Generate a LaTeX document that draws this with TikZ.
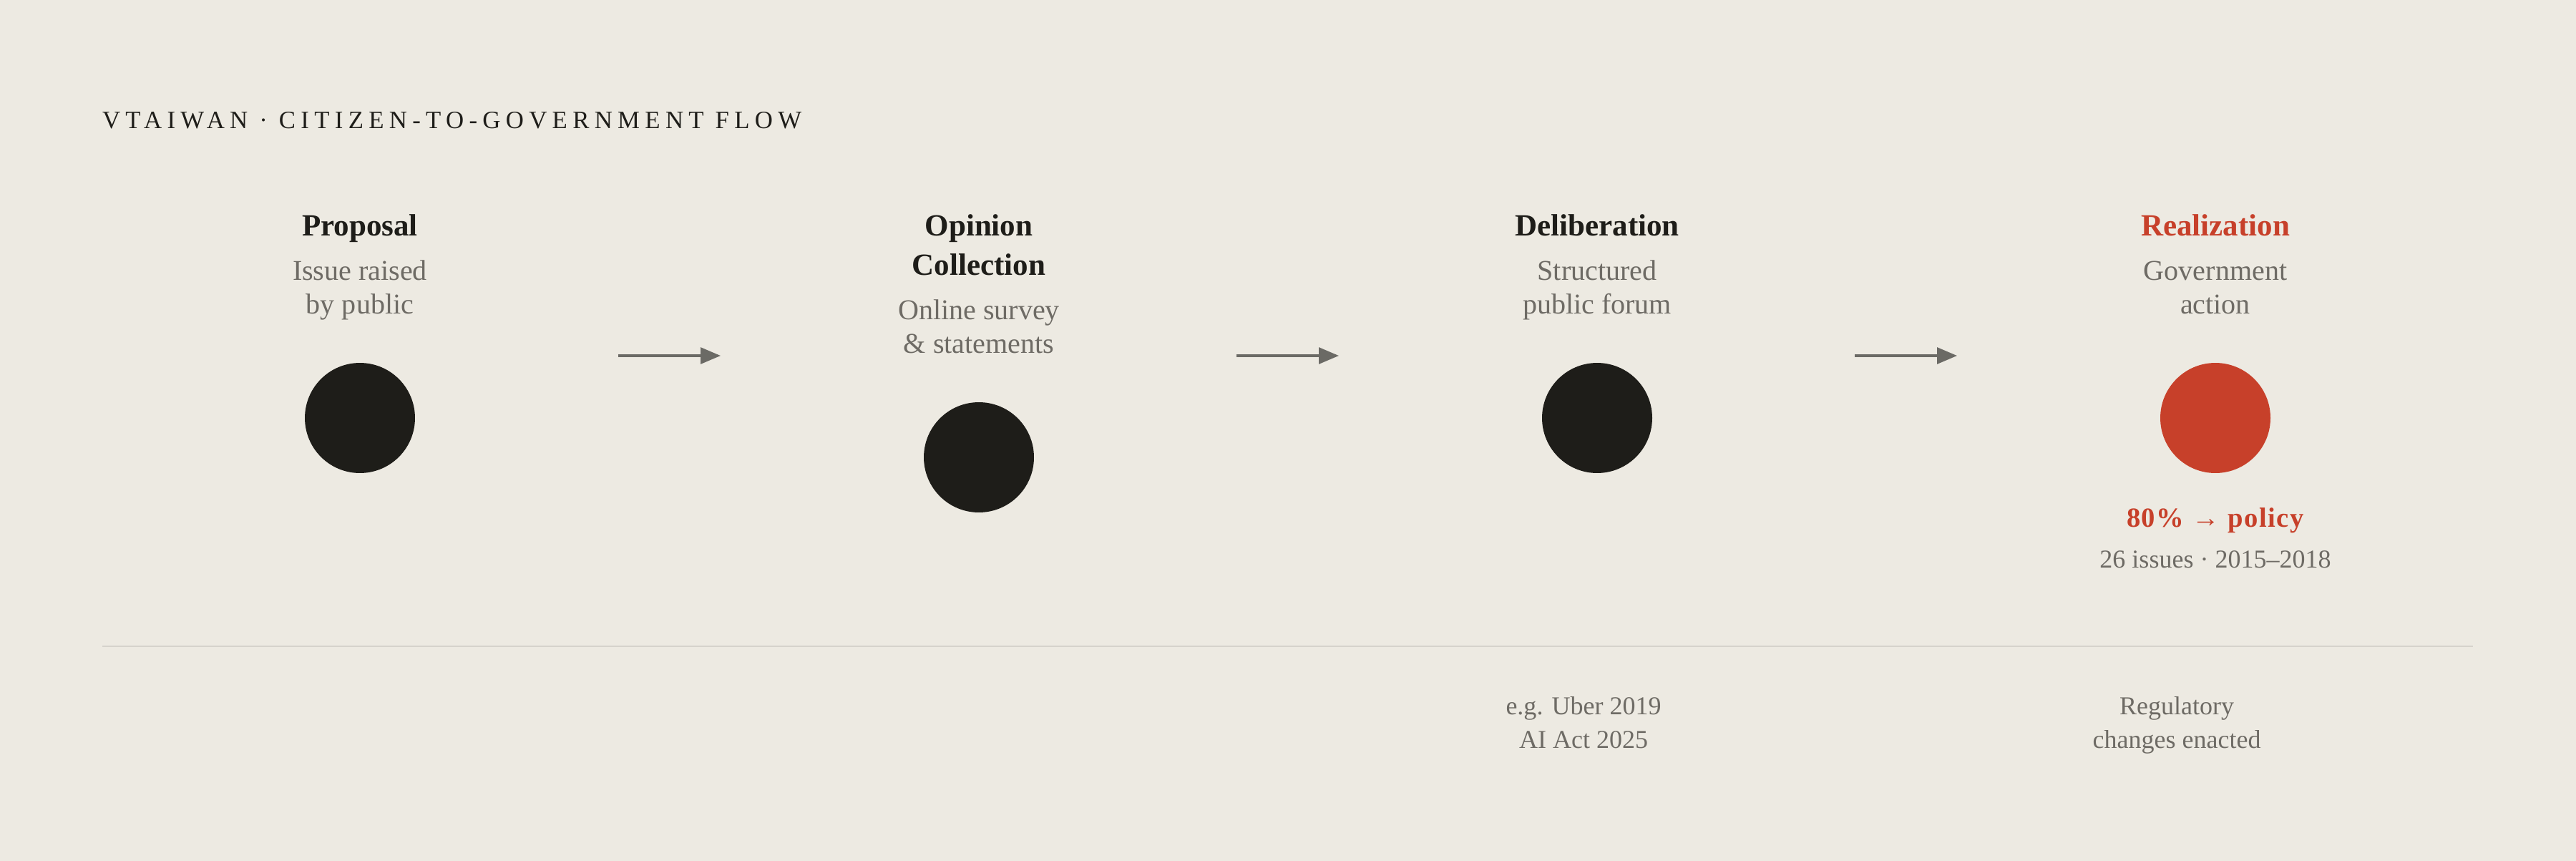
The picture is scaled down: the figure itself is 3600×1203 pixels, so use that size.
\documentclass[tikz,border=0pt]{standalone}
\usepackage{fontspec}
\setmainfont{Liberation Serif}
\usetikzlibrary{arrows.meta}
\definecolor{bgc}{HTML}{EDEAE2}
\definecolor{darkc}{HTML}{1E1D19}
\definecolor{redc}{HTML}{C7402A}
\definecolor{grayc}{HTML}{6E6B65}
\definecolor{arrowc}{HTML}{6B6A65}
\definecolor{rulec}{HTML}{D6D3CC}
\begin{document}
\begin{tikzpicture}[x=0.02cm,y=-0.02cm,
  every node/.style={inner sep=0pt,outer sep=0pt},
  ttl/.style={anchor=base,font=\fontsize{24.5pt}{29pt}\selectfont\bfseries,text=darkc},
  sub/.style={anchor=base,font=\fontsize{22.8pt}{27pt}\selectfont,text=grayc},
  note/.style={anchor=base,font=\fontsize{20.5pt}{25pt}\selectfont,text=grayc},
  dot/.style={circle,fill=darkc,minimum size=3.08cm},
  flow/.style={draw=arrowc,line width=1.8pt,-{Triangle[length=15.9pt,width=13pt]}}]
\fill[bgc] (0,0) rectangle (3600,1203);
\useasboundingbox (0,0) rectangle (3600,1203);
% header
\node[anchor=base west,font=\fontsize{19.8pt}{24pt}\selectfont\addfontfeatures{LetterSpace=21},text=darkc] (head) at (143,179) {VTAIWAN · CITIZEN-TO-GOVERNMENT FLOW};
% column 1
\node[ttl] (t1) at (503,329) {Proposal};
\node[sub] (s1a) at (503,391) {Issue raised};
\node[sub] (s1b) at (503,438) {by public};
\node[dot] (c1) at (503,584) {};
% column 2
\node[ttl] (t2a) at (1368,329) {Opinion};
\node[ttl] (t2b) at (1368,384) {Collection};
\node[sub] (s2a) at (1368,446) {Online survey};
\node[sub] (s2b) at (1368,493) {\& statements};
\node[dot] (c2) at (1368,639) {};
% column 3
\node[ttl] (t3) at (2232,329) {Deliberation};
\node[sub] (s3a) at (2232,391) {Structured};
\node[sub] (s3b) at (2232,438) {public forum};
\node[dot] (c3) at (2232,584) {};
% column 4
\node[ttl,text=redc] (t4) at (3096,329) {Realization};
\node[sub] (s4a) at (3096,391) {Government};
\node[sub] (s4b) at (3096,438) {action};
\node[dot,fill=redc] (c4) at (3096,584) {};
\node[anchor=base,font=\fontsize{22pt}{26pt}\selectfont\bfseries\addfontfeatures{LetterSpace=4},text=redc] (r1) at (3096,736) {80\% → policy};
\node[note] (r2) at (3096,793) {26 issues · 2015–2018};
% arrows
\coordinate (a1s) at (864,497); \coordinate (a1e) at (1007,497);
\coordinate (a2s) at (1728,497); \coordinate (a2e) at (1871,497);
\coordinate (a3s) at (2592,497); \coordinate (a3e) at (2735,497);
\draw[flow] (a1s) -- (a1e);
\draw[flow] (a2s) -- (a2e);
\draw[flow] (a3s) -- (a3e);
% rule
\coordinate (l1) at (143,903); \coordinate (l2) at (3456,903);
\draw[rulec,line width=1.5pt] (l1) -- (l2);
% bottom notes
\node[note] (b3a) at (2213,998) {e.g. Uber 2019};
\node[note] (b3b) at (2213,1045) {AI Act 2025};
\node[note] (b4a) at (3042,998) {Regulatory};
\node[note] (b4b) at (3042,1045) {changes enacted};
\end{tikzpicture}
\end{document}
